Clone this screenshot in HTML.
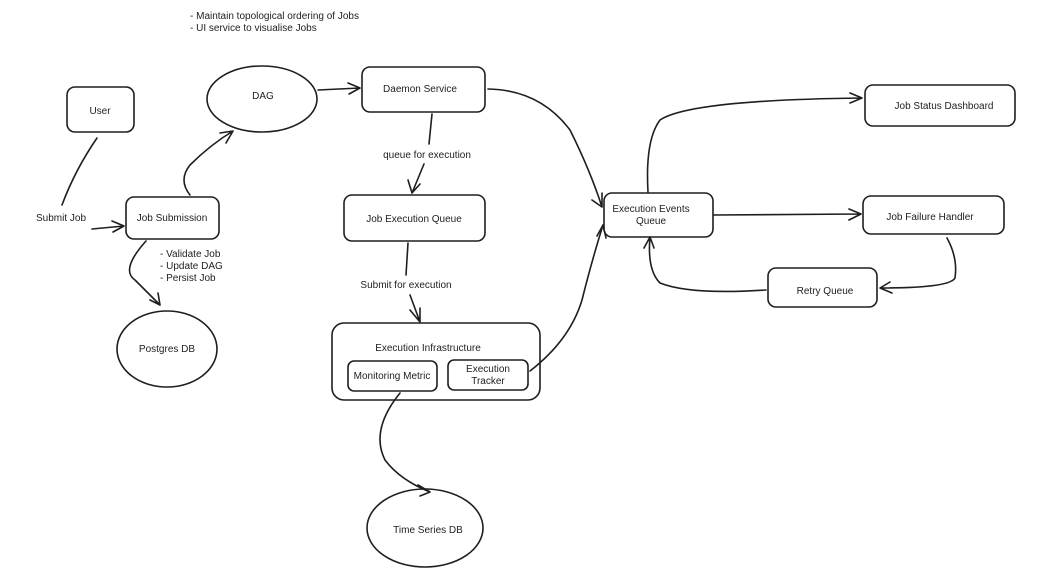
<!DOCTYPE html>
<html><head><meta charset="utf-8"><style>
html,body{margin:0;padding:0;background:#fff}
svg{display:block}
text{font-family:"Liberation Sans",sans-serif;font-size:10px;fill:#1e1e1e}
.s{fill:none;stroke:#1e1e1e;stroke-width:1.6;stroke-linecap:round;stroke-linejoin:round}
</style></head><body>
<svg width="1042" height="574" viewBox="0 0 1042 574">
<rect width="1042" height="574" fill="#fff"/>
<text x="190" y="19">- Maintain topological ordering of Jobs</text>
<text x="190" y="31">- UI service to visualise Jobs</text>

<!-- nodes -->
<rect class="s" x="67" y="87" width="67" height="45" rx="8"/>
<text x="100" y="114" text-anchor="middle">User</text>
<ellipse class="s" cx="262" cy="99" rx="55" ry="33"/>
<text x="263" y="99" text-anchor="middle">DAG</text>
<rect class="s" x="362" y="67" width="123" height="45" rx="8"/>
<text x="420" y="92" text-anchor="middle">Daemon Service</text>
<rect class="s" x="126" y="197" width="93" height="42" rx="8"/>
<text x="172" y="221" text-anchor="middle">Job Submission</text>
<text x="160" y="257">- Validate Job</text>
<text x="160" y="269">- Update DAG</text>
<text x="160" y="281">- Persist Job</text>
<ellipse class="s" cx="167" cy="349" rx="50" ry="38"/>
<text x="167" y="352" text-anchor="middle">Postgres DB</text>
<rect class="s" x="344" y="195" width="141" height="46" rx="8"/>
<text x="414" y="222" text-anchor="middle">Job Execution Queue</text>
<text x="427" y="158" text-anchor="middle">queue for execution</text>
<text x="406" y="288" text-anchor="middle">Submit for execution</text>
<rect class="s" x="332" y="323" width="208" height="77" rx="12"/>
<text x="428" y="351" text-anchor="middle">Execution Infrastructure</text>
<rect class="s" x="348" y="361" width="89" height="30" rx="6"/>
<text x="392" y="379" text-anchor="middle">Monitoring Metric</text>
<rect class="s" x="448" y="360" width="80" height="30" rx="6"/>
<text x="488" y="372" text-anchor="middle">Execution</text>
<text x="488" y="384" text-anchor="middle">Tracker</text>
<ellipse class="s" cx="425" cy="528" rx="58" ry="39"/>
<text x="428" y="533" text-anchor="middle">Time Series DB</text>
<rect class="s" x="604" y="193" width="109" height="44" rx="8"/>
<text x="651" y="212" text-anchor="middle">Execution Events</text>
<text x="651" y="224" text-anchor="middle">Queue</text>
<rect class="s" x="865" y="85" width="150" height="41" rx="8"/>
<text x="944" y="109" text-anchor="middle">Job Status Dashboard</text>
<rect class="s" x="863" y="196" width="141" height="38" rx="8"/>
<text x="930" y="220" text-anchor="middle">Job Failure Handler</text>
<rect class="s" x="768" y="268" width="109" height="39" rx="8"/>
<text x="825" y="294" text-anchor="middle">Retry Queue</text>

<text x="36" y="221">Submit Job</text>

<!-- connectors -->
<path class="s" d="M97 138 Q75 170 62 205"/>
<path class="s" d="M92 229 L124 226 M112 221 L124 226 L113 232"/>
<path class="s" d="M190 195 Q178 180 190 165 Q210 145 233 131 M220 133 L233 131 L226 143"/>
<path class="s" d="M146 241 Q120 270 135 280 Q145 290 160 305 M150 300 L160 305 L158 293"/>
<path class="s" d="M318 90 L360 88 M348 83 L360 88 L349 94"/>
<path class="s" d="M432 114 L429 144"/>
<path class="s" d="M424 164 L412 193 M408 180 L412 193 L420 184"/>
<path class="s" d="M408 243 L406 275"/>
<path class="s" d="M410 295 L420 322 M410 310 L420 322 L420 308"/>
<path class="s" d="M400 393 Q370 430 385 460 Q400 480 430 492 M418 485 L430 492 L420 496"/>
<path class="s" d="M488 89 Q540 90 570 130 Q590 170 602 207 M592 200 L602 207 L602 193"/>
<path class="s" d="M530 371 Q570 340 582 300 Q592 260 603 225 M597 236 L603 225 L606 238"/>
<path class="s" d="M648 192 Q645 140 660 120 Q690 100 862 98 M850 93 L862 98 L850 103"/>
<path class="s" d="M714 215 L861 214 M849 209 L861 214 L849 220"/>
<path class="s" d="M947 238 Q958 258 955 278 Q950 288 880 288 M890 282 L880 288 L892 293"/>
<path class="s" d="M766 290 Q690 295 660 283 Q647 270 650 237 M644 248 L650 237 L654 248"/>
</svg>
</body></html>
